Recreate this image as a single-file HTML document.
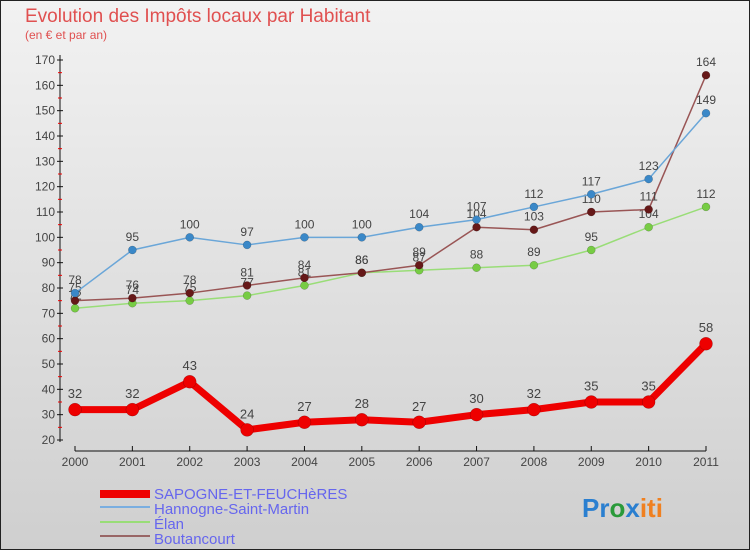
<!DOCTYPE html>
<html><head><meta charset="utf-8"><style>
body{margin:0}
#c{width:750px;height:550px;position:relative;overflow:hidden;font-family:"Liberation Sans",sans-serif}
</style></head><body>
<div id="c">
<svg id="s" width="750" height="550" xmlns="http://www.w3.org/2000/svg">
<defs><linearGradient id="bg" x1="0" y1="0" x2="0" y2="1"><stop offset="0" stop-color="#f2f2f2"/><stop offset="1" stop-color="#cfcfcf"/></linearGradient></defs>
<rect x="0.5" y="0.5" width="749" height="549" fill="url(#bg)" stroke="#222"/>
<text x="25" y="22" font-size="19" fill="#e05050">Evolution des Impôts locaux par Habitant</text>
<text x="25" y="39" font-size="12" fill="#e05050">(en € et par an)</text>
<g id="axes"></g><g id="series"></g>
<g>
<rect x="100" y="490" width="50" height="8" fill="#ee0000"/>
<text x="154" y="499" font-size="15" fill="#6666ee">SAPOGNE-ET-FEUCHèRES</text>
<rect x="100" y="506" width="50" height="2" fill="#7aaee0"/>
<text x="154" y="514" font-size="15" fill="#6666ee">Hannogne-Saint-Martin</text>
<rect x="100" y="521" width="50" height="2" fill="#99dd77"/>
<text x="154" y="529" font-size="15" fill="#6666ee">Élan</text>
<rect x="100" y="535" width="50" height="2" fill="#996666"/>
<text x="154" y="544" font-size="15" fill="#6666ee">Boutancourt</text>
</g>
<text x="582" y="517" font-size="26" font-weight="bold"><tspan fill="#2a7fd0">Pr</tspan><tspan fill="#2a9a3a">o</tspan><tspan fill="#2a7fd0">x</tspan><tspan fill="#f08020">iti</tspan></text>
</svg>
</div>
<script>
const years=["2000","2001","2002","2003","2004","2005","2006","2007","2008","2009","2010","2011"];
const yTicks=[20,30,40,50,60,70,80,90,100,110,120,130,140,150,160,170];
const sapogne=[32,32,43,24,27,28,27,30,32,35,35,58];
const hannogne=[78,95,100,97,100,100,104,107,112,117,123,149];
const elan=[72,74,75,77,81,86,87,88,89,95,104,112];
const boutancourt=[75,76,78,81,84,86,89,104,103,110,111,164];
const NS="http://www.w3.org/2000/svg";
function X(i){return 75+i*(706-75)/11;}
function Y(v){return 440-(v-20)*(380/150);}
function mk(t,a,p){const e=document.createElementNS(NS,t);for(const k in a)e.setAttribute(k,a[k]);p.appendChild(e);return e;}
const ax=document.getElementById('axes');
let l=mk('line',{x1:60,y1:55,x2:60,y2:442,stroke:'#111'},ax);

l=mk('line',{x1:75,y1:451,x2:706,y2:451,stroke:'#111'},ax);

yTicks.forEach(v=>{const y=Y(v);
 mk('line',{x1:57,y1:y,x2:63,y2:y,stroke:'#111'},ax);
 if(v<170)mk('line',{x1:58,y1:Y(v+5),x2:62,y2:Y(v+5),stroke:'#e00'},ax);
 const t=mk('text',{x:55,y:y+4,'font-size':12,fill:'#444','text-anchor':'end'},ax);t.textContent=v;
 });
years.forEach((yr,i)=>{const x=X(i);
 mk('line',{x1:x,y1:446,x2:x,y2:451,stroke:'#111'},ax);
 const t=mk('text',{x:x,y:466,'font-size':12,fill:'#444','text-anchor':'middle'},ax);t.textContent=yr;
 });
const sg=document.getElementById('series');
function draw(name,data,color,dot,w,r,fs){
 const g=mk('g',{},sg);
 
 const p=mk('polyline',{points:data.map((v,i)=>X(i)+','+Y(v)).join(' '),fill:'none',stroke:color,'stroke-width':w,'stroke-linejoin':'round'},g);
 
 data.forEach((v,i)=>{
  const c=mk('circle',{cx:X(i),cy:Y(v),r:r,fill:dot,stroke:'rgba(0,0,0,0.3)','stroke-width':0.5},g);
  
  const t=mk('text',{x:X(i),y:Y(v)-(r+5),'font-size':fs,fill:'#444','text-anchor':'middle'},g);t.textContent=v;
  
 });
}
draw('elan',elan,'#99dd77','#77cc44',1.5,4,12);
draw('boutancourt',boutancourt,'#995555','#661818',1.5,4,12);
draw('hannogne',hannogne,'#6aa6d8','#3a88c8',1.5,4,12);
draw('sapogne',sapogne,'#ee0000','#ee0000',7,6.5,13);
</script>
</body></html>
